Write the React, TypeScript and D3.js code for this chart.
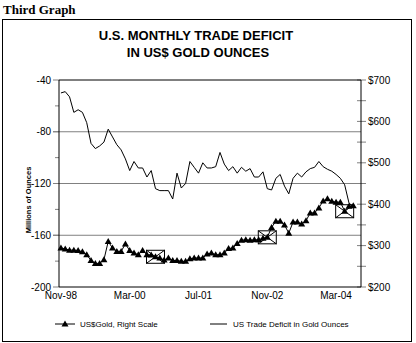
import React from 'react';
import * as d3 from 'd3';

const tickIndex = [0, 16, 32, 48, 64];
const tickLabels = ['Nov-98', 'Mar-00', 'Jul-01', 'Nov-02', 'Mar-04'];

const deficit = [
  -50, -49, -53, -65, -63, -65, -73, -89, -93, -91, -88, -78, -84, -90, -94, -101,
  -110, -103, -108, -108, -115, -110, -124, -125.5, -125.5, -125.5, -132, -112, -123.5, -120,
  -103, -107.5, -112, -104, -108, -108, -107, -96, -105, -110, -107, -112, -107.5, -110.5,
  -108.5, -115, -115, -111, -124, -125, -116, -113, -122, -128, -116, -112, -115, -111,
  -108.5, -107.5, -103, -107, -109, -110.5, -113, -116, -121, -135, -138,
];

const gold = [
  294, 292, 289, 289, 288, 285, 278, 264, 257, 257, 266, 310, 294, 286, 286, 304,
  288, 282, 278, 288, 278, 277, 273, 270, 265, 270, 264, 264, 262, 262, 268, 270,
  270, 270, 280, 282, 278, 278, 282, 293, 294, 305, 313, 314, 313, 314, 314, 318,
  320, 344, 359, 359, 350, 330, 357, 357, 352, 360, 379, 379, 391, 408, 413, 407,
  405, 405, 383, 395, 396,
];

const boxed = [22, 48, 66];
const leftMajor = [-40, -80, -120, -160, -200];
const leftMinor = [-60, -100, -140, -180];
const gridVals = [-80, -120, -160];
const rightMajor = [700, 600, 500, 400, 300, 200];
const rightMinor = [650, 550, 450, 350, 250];

const SANS = "'Liberation Sans', Arial, sans-serif";

export default function App() {
  const x = d3.scaleLinear().domain([-0.45, 69.8]).range([59, 361]);
  const yL = d3.scaleLinear().domain([-200, -40]).range([287, 80]);
  const yR = d3.scaleLinear().domain([200, 700]).range([287, 80]);

  const defLine = d3.line<number>().x((_, i) => x(i)).y((d) => yL(d));
  const goldLine = d3.line<number>().x((_, i) => x(i)).y((d) => yR(d));

  const tri = (cx: number, cy: number) =>
    `M${cx},${cy - 3.5}L${cx + 3.5},${cy + 2.5}L${cx - 3.5},${cy + 2.5}Z`;

  const left = x.range()[0];
  const right = x.range()[1];
  const gray = '#808080';

  return (
    <svg
      width={416}
      height={343}
      style={{ position: 'absolute', left: 0, top: 0, background: '#fff' }}
    >
      <rect x={0} y={0} width={416} height={343} fill="#fff" />
      <text x={3} y={14} fontFamily="'Liberation Serif', 'Times New Roman', serif" fontWeight="bold" fontSize={13}>
        Third Graph
      </text>
      <rect x={2.5} y={19.5} width={409} height={322} fill="none" stroke="#000" strokeWidth={1} />

      <text x={196} y={40} textAnchor="middle" fontFamily={SANS} fontWeight="bold" fontSize={13}>
        U.S. MONTHLY TRADE DEFICIT
      </text>
      <text x={198} y={57} textAnchor="middle" fontFamily={SANS} fontWeight="bold" fontSize={13}>
        IN US$ GOLD OUNCES
      </text>

      {/* gridlines */}
      {gridVals.map((v) => (
        <line key={'g' + v} x1={53} x2={right} y1={yL(v)} y2={yL(v)} stroke={gray} strokeWidth={1} />
      ))}
      {/* left ticks */}
      {leftMajor.map((v) => (
        <line key={'lm' + v} x1={53} x2={left} y1={yL(v)} y2={yL(v)} stroke={gray} />
      ))}
      {leftMinor.map((v) => (
        <line key={'ln' + v} x1={55} x2={left} y1={yL(v)} y2={yL(v)} stroke={gray} />
      ))}
      {/* right ticks */}
      {[...rightMajor, ...rightMinor].map((v) => (
        <line key={'rt' + v} x1={right - 4} x2={right + 5} y1={yR(v)} y2={yR(v)} stroke={gray} />
      ))}
      {/* frame */}
      <line x1={left} x2={right} y1={80} y2={80} stroke="#000" />
      <line x1={left} x2={right} y1={287} y2={287} stroke="#000" />
      <line x1={left} x2={left} y1={80} y2={287} stroke="#000" />
      <line x1={right} x2={right} y1={80} y2={287} stroke="#000" />

      {/* left labels */}
      {leftMajor.map((v) => (
        <text key={'ll' + v} x={51} y={yL(v)} dy="0.35em" textAnchor="end" fontFamily={SANS} fontSize={10}>
          {v}
        </text>
      ))}
      {rightMajor.map((v) => (
        <text key={'rl' + v} x={368} y={yR(v)} dy="0.35em" fontFamily={SANS} fontSize={10}>
          {'$' + v}
        </text>
      ))}
      {tickIndex.map((t, k) => (
        <text key={'xl' + t} x={x(t)} y={298.5} textAnchor="middle" fontFamily={SANS} fontSize={10}>
          {tickLabels[k]}
        </text>
      ))}
      <text
        transform="translate(31,200) rotate(-90)"
        textAnchor="middle"
        fontFamily={SANS}
        fontSize={7.5}
        fontWeight="bold"
      >
        Millions of Ounces
      </text>

      {/* deficit line */}
      <path d={defLine(deficit) || ''} fill="none" stroke="#000" strokeWidth={1} />
      {/* gold line */}
      <path d={goldLine(gold) || ''} fill="none" stroke="#000" strokeWidth={1} />
      {gold.map((g, i) => (
        <path key={'t' + i} d={tri(x(i), yR(g))} fill="#000" />
      ))}
      {boxed.map((i) => {
        const cx = x(i);
        const cy = yR(gold[i]);
        const w = 18;
        const h = 13;
        return (
          <g key={'b' + i} fill="none" stroke="#000" strokeWidth={1}>
            <rect x={cx - w / 2} y={cy - h / 2} width={w} height={h} />
            <line x1={cx - w / 2} y1={cy - h / 2} x2={cx + w / 2} y2={cy + h / 2} />
            <line x1={cx + w / 2} y1={cy - h / 2} x2={cx - w / 2} y2={cy + h / 2} />
          </g>
        );
      })}

      {/* legend */}
      <line x1={55} x2={75} y1={324} y2={324} stroke="#000" />
      <path d={tri(65, 324)} fill="#000" />
      <text x={80} y={327} fontFamily={SANS} fontSize={8}>
        US$Gold, Right Scale
      </text>
      <line x1={210} x2={227} y1={324} y2={324} stroke="#000" />
      <text x={233} y={327} fontFamily={SANS} fontSize={8}>
        US Trade Deficit in Gold Ounces
      </text>
    </svg>
  );
}
